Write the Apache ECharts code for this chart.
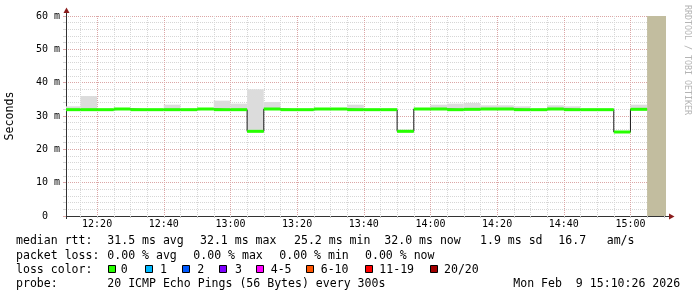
<!DOCTYPE html>
<html><head><meta charset="utf-8">
<script src="https://cdn.jsdelivr.net/npm/echarts@6/dist/echarts.min.js"></script>
<style>html,body{margin:0;padding:0;background:#fff}#c{width:697px;height:297px}</style>
</head><body><div id="c"></div>
<script>
// ---- data ----
const DAY = [2026, 1, 9];
const windowStart = '12:10:40';
const windowEnd = '15:10:40';
const segEnd = ['12:15','12:20','12:25','12:30','12:35','12:40','12:45','12:50','12:55','13:00',
  '13:05','13:10','13:15','13:20','13:25','13:30','13:35','13:40','13:45','13:50',
  '13:55','14:00','14:05','14:10','14:15','14:20','14:25','14:30','14:35','14:40',
  '14:45','14:50','14:55','15:00','15:05'];
const medianRtt = [31.9,31.9,31.9,32.1,31.9,31.9,31.9,31.9,32.1,31.9,
  31.9,25.4,32.1,31.9,31.9,32.1,32.1,31.9,31.9,31.9,
  25.4,32.1,32.1,31.9,32.0,32.1,32.1,31.9,31.9,32.1,
  31.9,31.9,31.9,25.2,32.0];
const smokeHigh = [32.9,36.0,null,null,null,null,33.4,null,null,34.6,
  33.7,38.0,34.2,null,null,null,null,33.4,null,null,
  25.9,null,33.4,33.7,33.9,33.2,33.2,32.9,null,33.2,
  32.9,null,null,null,33.4];
const unknownFrom = '15:05';
const xLabelTimes = ['12:20','12:40','13:00','13:20','13:40','14:00','14:20','14:40','15:00'];
const yTickLabels = ['0  ','10 m','20 m','30 m','40 m','50 m','60 m'];
const lossLabels = ['0','1','2','3','4-5','6-10','11-19','20/20'];
const lossColors = ['#26ff00','#00b8ff','#0059ff','#7e00ff','#ff00ff','#ff5500','#ff0000','#a10000'];
const legendRtt = ['median rtt:','31.5 ms avg','32.1 ms max','25.2 ms min','32.0 ms now','1.9 ms sd','16.7','am/s'];
const legendLoss = ['packet loss:','0.00 % avg','0.00 % max','0.00 % min','0.00 % now'];
const legendProbe = ['probe:','20 ICMP Echo Pings (56 Bytes) every 300s','Mon Feb  9 15:10:26 2026'];
const watermark = 'RRDTOOL / TOBI OETIKER';

// ---- helpers ----
function ts(hms){const p=hms.split(':').map(Number);return new Date(DAY[0],DAY[1],DAY[2],p[0],p[1],p[2]||0).getTime();}
function hhmm(v){const d=new Date(v);return String(d.getHours()).padStart(2,'0')+':'+String(d.getMinutes()).padStart(2,'0');}
const tMin = ts(windowStart), tMax = ts(windowEnd);
const segStartT = segEnd.map((e,i)=> i===0 ? tMin : ts(segEnd[i-1]));
const segEndT = segEnd.map(ts);
const medData = medianRtt.map((v,i)=>[segStartT[i], segEndT[i], v]);
const smokeData = smokeHigh.map((h,i)=>[segStartT[i], segEndT[i], medianRtt[i], h==null?medianRtt[i]:h]);
const stepData = [];
medianRtt.forEach((v,i)=>{stepData.push([segStartT[i],v]);stepData.push([segEndT[i],v]);});
// 5-minute grid marks
const minorTicks=[];
for(let t=ts('12:15'); t<=tMax; t+=5*60000) minorTicks.push(t);

const MONO='"DejaVu Sans Mono", monospace';
const GL=66, GT=16, GR=31, GB=81;
const GRAY='#d6d6d6', RED='#dba6a6';

const chart = echarts.init(document.getElementById('c'), null, {renderer:'canvas'});

function txt(x,y,s,extra){return Object.assign({type:'text',x:x,y:y,silent:true,style:{text:s,fill:'#000',font:'11.55px '+MONO,textAlign:'left',textVerticalAlign:'middle'}},extra||{});}
const graphics = [];
const rttX=[16,107.3,200,294,384.3,480,558.3,606.7];
legendRtt.forEach((s,i)=>graphics.push(txt(rttX[i],241,s)));
const lossX=[16,107.3,193.3,279.3,365];
legendLoss.forEach((s,i)=>graphics.push(txt(lossX[i],255.5,s)));
graphics.push(txt(16,269.5,'loss color:'));
const boxX=[108.5,145.5,182.5,219.5,256.5,306.5,365.5,430.5];
const boxTX=[120.7,160,197.3,235,270.7,320.7,379.3,444];
lossLabels.forEach((s,i)=>{
  graphics.push({type:'rect',silent:true,shape:{x:boxX[i],y:265.5,width:7,height:7},style:{fill:lossColors[i],stroke:'#000',lineWidth:1}});
  graphics.push(txt(boxTX[i],269.5,s));
});
const probeX=[16,107.3,513.3];
legendProbe.forEach((s,i)=>graphics.push(txt(probeX[i],284,s)));
graphics.push({type:'text',x:687.5,y:5,rotation:-Math.PI/2,silent:true,style:{text:watermark,fill:'#b4b4b4',font:'8.3px '+MONO,textAlign:'left',textVerticalAlign:'middle'}});
// axis extensions + arrows
graphics.push({type:'line',silent:true,shape:{x1:GL+0.5,y1:GT,x2:GL+0.5,y2:12},style:{stroke:'#333',lineWidth:1}});
graphics.push({type:'line',silent:true,shape:{x1:GL+0.5,y1:297-GB,x2:GL+0.5,y2:297-GB+3},style:{stroke:'#333',lineWidth:1}});
graphics.push({type:'polygon',silent:true,shape:{points:[[GL+0.5,7.5],[GL-2.5,13],[GL+3.5,13]]},style:{fill:'#8b1c1c'}});
graphics.push({type:'line',silent:true,shape:{x1:697-GR,y1:297-GB+0.5,x2:669,y2:297-GB+0.5},style:{stroke:'#333',lineWidth:1}});
graphics.push({type:'line',silent:true,shape:{x1:GL-3,y1:297-GB+0.5,x2:GL,y2:297-GB+0.5},style:{stroke:'#333',lineWidth:1}});
graphics.push({type:'polygon',silent:true,shape:{points:[[674.5,297-GB+0.5],[669,297-GB-2.5],[669,297-GB+3.5]]},style:{fill:'#8b1c1c'}});

chart.setOption({
  animation:false,
  backgroundColor:'#fff',
  grid:{left:GL,top:GT,right:GR,bottom:GB,containLabel:false,outerBoundsMode:'none'},
  xAxis:{
    type:'value',min:tMin,max:tMax,scale:true,
    axisLine:{show:true,onZero:false,lineStyle:{color:'#333',width:1}},
    axisTick:{show:true,length:2,customValues:minorTicks,lineStyle:{color:'#c8c8c8'}},
    axisLabel:{customValues:xLabelTimes.map(ts),margin:3,color:'#000',fontFamily:MONO,fontSize:10,
      formatter:(v)=>hhmm(v)},
    splitLine:{show:true,lineStyle:{color:[GRAY,RED,GRAY,GRAY],type:[1,1],width:1}}
  },
  yAxis:{
    type:'value',min:0,max:60,interval:10,
    name:'Seconds',nameLocation:'middle',nameGap:50,
    nameTextStyle:{color:'#000',fontFamily:MONO,fontSize:11.6},
    axisLine:{show:true,lineStyle:{color:'#333',width:1}},
    axisTick:{show:true,length:3,lineStyle:{color:RED}},
    minorTick:{show:true,splitNumber:5,length:3,lineStyle:{color:GRAY}},
    axisLabel:{margin:6,color:'#000',fontFamily:MONO,fontSize:10,formatter:(v)=>yTickLabels[Math.round(v/10)]},
    splitLine:{show:true,lineStyle:{color:RED,type:[1,1],width:1}},
    minorSplitLine:{show:true,lineStyle:{color:GRAY,type:[1,1],width:1}}
  },
  series:[
    {type:'custom',name:'unknown',z:1,data:[[ts(unknownFrom),tMax]],
      renderItem:(p,api)=>{const a=api.coord([api.value(0),60]);const b=api.coord([api.value(1),0]);
        return {type:'rect',shape:{x:a[0],y:a[1],width:b[0]-a[0],height:b[1]-a[1]},style:{fill:'#c2bd9f'}};}},
    {type:'custom',name:'smoke',z:2,data:smokeData,
      renderItem:(p,api)=>{const a=api.coord([api.value(0),api.value(3)]);const b=api.coord([api.value(1),api.value(2)]);
        if(b[1]-a[1]<0.5) return null;
        return {type:'rect',shape:{x:a[0],y:a[1],width:b[0]-a[0],height:b[1]-a[1]},style:{fill:'#dcdcdc'}};}},
    {type:'line',name:'step',z:3,data:stepData,showSymbol:false,symbol:'none',lineStyle:{color:'#1a1a1a',width:1},silent:true},
    {type:'custom',name:'median',z:4,data:medData,
      renderItem:(p,api)=>{const a=api.coord([api.value(0),api.value(2)]);const b=api.coord([api.value(1),api.value(2)]);
        return {type:'rect',shape:{x:a[0],y:a[1]-1.5,width:b[0]-a[0],height:3},style:{fill:'#26ff00'}};}}
  ],
  graphic:graphics
});
</script></body></html>
